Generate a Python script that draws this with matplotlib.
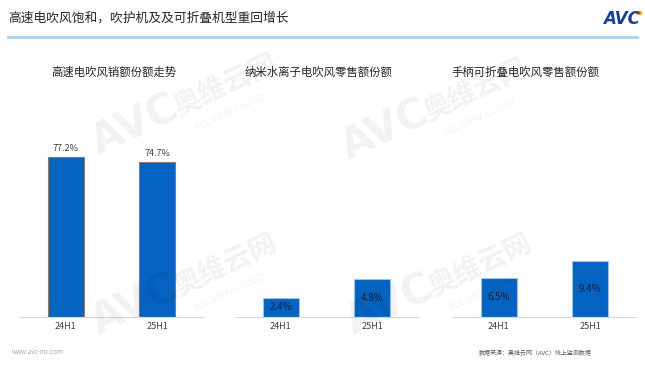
import matplotlib
matplotlib.use('Agg')
import matplotlib.pyplot as plt

plt.rcParams['font.family'] = ['Noto Sans CJK SC', 'DejaVu Sans']

# data
periods = ['24H1', '25H1']
panel_titles = ['高速电吹风销额份额走势', '纳米水离子电吹风零售额份额', '手柄可折叠电吹风零售额份额']
share_highspeed = [77.2, 74.7]
share_nano = [2.4, 4.8]
share_foldable = [6.5, 9.4]
main_title = '高速电吹风饱和，吹护机及及可折叠机型重回增长'
source_note = '数据来源：奥维云网（AVC）线上监测数据'

W, H = 645, 365
fig = plt.figure(figsize=(W / 100, H / 100), dpi=100)


def fx(px):
    return px / W


def fy(py):
    return 1 - py / H


# header
fig.text(fx(8), fy(18), main_title, fontsize=9.2, color='#262626', va='center', ha='left')
fig.add_artist(plt.Line2D([fx(8), fx(637)], [fy(37), fy(37)], color='#a9d3ec', lw=2))
fig.text(fx(603), fy(19), 'AVC', fontsize=12, fontweight='bold', color='#1b3f94',
         va='center', ha='left', family='DejaVu Sans', style='italic')
fig.add_artist(plt.Circle((fx(639), fy(13)), 0.004, color='#f39c12', transform=fig.transFigure))

# panels
series = [share_highspeed, share_nano, share_foldable]
lefts = [20, 235, 453]
title_x = [114, 318, 525]
ymaxs = [104.8, 27.4, 36.7]
edges = ['#8c7a6b', '#9dc3e6', '#9dc3e6']
bottom_px, top_px, width_px = 316.5, 100, 183

for i, vals in enumerate(series):
    ax = fig.add_axes([fx(lefts[i]), fy(bottom_px), width_px / W, (bottom_px - top_px) / H])
    ax.bar(range(len(periods)), vals, width=0.39, color='#0563c1',
           edgecolor=edges[i], lw=0.8)
    ax.set_xlim(-0.5, 1.5)
    ax.set_ylim(0, ymaxs[i])
    ax.set_xticks(range(len(periods)))
    ax.set_xticklabels(periods, fontsize=6.5, color='#404040')
    ax.tick_params(axis='x', length=0, pad=4)
    ax.set_yticks([])
    for s in ['top', 'right', 'left']:
        ax.spines[s].set_visible(False)
    ax.spines['bottom'].set_color('#d9d9d9')
    ax.spines['bottom'].set_linewidth(0.8)
    for j, v in enumerate(vals):
        if i == 0:
            ax.annotate(f'{v}%', (j, v), xytext=(0, 3), textcoords='offset points',
                        ha='center', va='bottom', fontsize=6.5, color='#404040')
        else:
            ax.text(j, v / 2, f'{v}%', ha='center', va='center', fontsize=7, color='#16203a')
    fig.text(fx(title_x[i]), fy(72), panel_titles[i], fontsize=8.2, color='#262626',
             ha='center', va='center')

# watermark
def watermark(x, y):
    kw = dict(color='#000000', alpha=0.055, rotation=25, ha='center', va='center', zorder=10)
    fig.text(fx(x), fy(y), 'AVC', fontsize=30, fontweight='bold', family='DejaVu Sans', **kw)
    fig.text(fx(x + 90), fy(y - 40), '奥维云网', fontsize=20, fontweight='bold', **kw)
    fig.text(fx(x + 95), fy(y - 12), 'ALL VIEW CLOUD', fontsize=6.5, family='DejaVu Sans', **kw)

for wx, wy in [(135, 125), (385, 130), (135, 305), (390, 305)]:
    watermark(wx, wy)

# footer
fig.text(fx(12), fy(352), 'www.avc-mr.com', fontsize=4.5, color='#a6a6a6', va='center')
fig.text(fx(479), fy(353), source_note, fontsize=4.3, color='#595959', va='center')

fig.savefig('out.png', dpi=100)
